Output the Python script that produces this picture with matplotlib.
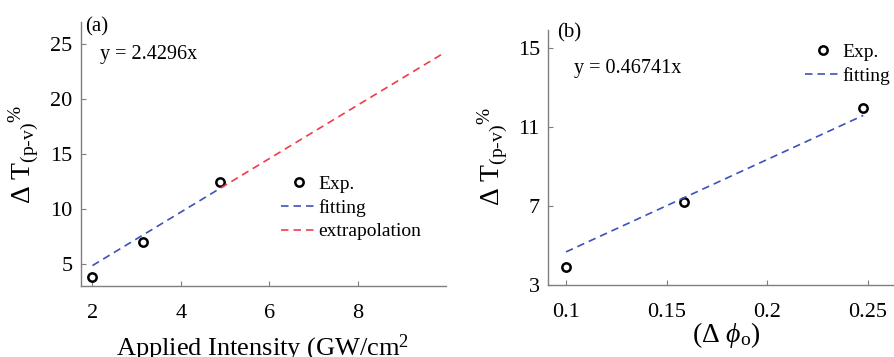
import numpy as np
import matplotlib.pyplot as plt

plt.rcParams['font.family'] = ['Liberation Serif', 'DejaVu Serif']
plt.rcParams['mathtext.fontset'] = 'custom'
plt.rcParams['mathtext.rm'] = 'Liberation Serif'
plt.rcParams['mathtext.it'] = 'Liberation Serif:italic'

# panel (a) data
int_exp = [1.98, 3.14, 4.89]
dt_exp_a = [3.85, 6.96, 12.45]
slope_a = 2.4296
fit_x_a = [2.0, 4.9]
extra_x_a = [4.9, 9.9]

# panel (b) data
phi_exp = [0.1, 0.1585, 0.2477]
dt_exp_b = [3.92, 7.19, 11.97]
slope_b = 46.741
fit_x_b = [0.1, 0.2477]

blue = '#3d52b8'
red = '#f23c48'
grey = '#7f7f7f'

fig = plt.figure(figsize=(8.94, 3.57), dpi=100)
ax1 = fig.add_axes([0.0906, 0.1989, 0.4083, 0.7395])
ax2 = fig.add_axes([0.6133, 0.2017, 0.3867, 0.7143])


def style(ax):
    for s in ['top', 'right']:
        ax.spines[s].set_visible(False)
    for s in ['left', 'bottom']:
        ax.spines[s].set_color(grey)
        ax.spines[s].set_linewidth(1.0)
    ax.tick_params(direction='in', length=3.5, color=grey, labelsize=16, pad=6)
    ax.tick_params(axis='x', pad=13)


# (a)
ax1.plot(int_exp, dt_exp_a, 'o', mfc='none', mec='black', mew=1.8, ms=6, label='Exp.')
ax1.plot(fit_x_a, slope_a * np.array(fit_x_a), '--', color=blue, lw=1.2, dashes=(4.5, 3), label='fitting')
ax1.plot(extra_x_a, slope_a * np.array(extra_x_a), '--', color=red, lw=1.2, dashes=(4.5, 3), label='extrapolation')
ax1.set_xlim(1.74, 10.0)
ax1.set_ylim(3, 27)
ax1.set_xticks([2, 4, 6, 8])
ax1.set_yticks([5, 10, 15, 20, 25])
style(ax1)
ax1.text(0.052, 0.875, 'y = 2.4296x', transform=ax1.transAxes, fontsize=14.5, va='center')
ax1.text(0.01, 0.98, '(a)', transform=ax1.transAxes, fontsize=15, va='center')
ax1.legend(loc='upper left', bbox_to_anchor=(0.52, 0.455), frameon=False, fontsize=14,
           handlelength=1.9, handletextpad=0.05, labelspacing=0.3, borderpad=0)

# (b)
ax2.plot(phi_exp, dt_exp_b, 'o', mfc='none', mec='black', mew=1.8, ms=6, label='Exp.')
ax2.plot(fit_x_b, slope_b * np.array(fit_x_b), '--', color=blue, lw=1.2, dashes=(4.5, 3), label='fitting')
ax2.set_xlim(0.0912, 0.263)
ax2.set_ylim(3, 15.9)
ax2.set_xticks([0.1, 0.15, 0.2, 0.25])
ax2.set_xticklabels(['0.1', '0.15', '0.2', '0.25'])
ax2.set_yticks([3, 7, 11, 15])
style(ax2)
ax2.text(0.075, 0.85, 'y = 0.46741x', transform=ax2.transAxes, fontsize=14.5, va='center')
ax2.text(0.025, 0.99, '(b)', transform=ax2.transAxes, fontsize=15, va='center')
ax2.legend(loc='upper left', bbox_to_anchor=(0.713, 0.985), frameon=False, fontsize=14,
           handlelength=1.9, handletextpad=0.05, labelspacing=0.3, borderpad=0)

ylab = r'$\Delta\ \mathrm{T}_{(\mathrm{p}\text{-}\mathrm{v})}{}^{\%}$'
fig.text(24 / 894, 1 - 155 / 357, ylab, rotation=90, fontsize=20, ha='center', va='center')
fig.text(493 / 894, 1 - 157 / 357, ylab, rotation=90, fontsize=20, ha='center', va='center')
fig.text(263 / 894, 0.004, r'Applied Intensity (GW/cm$^2$', fontsize=19, ha='center', va='baseline')
fig.text(726 / 894, 1 - 335 / 357, r'$(\Delta\ \phi_{\mathrm{o}})$', fontsize=20, ha='center', va='center')

fig.savefig('out.png', dpi=100)
